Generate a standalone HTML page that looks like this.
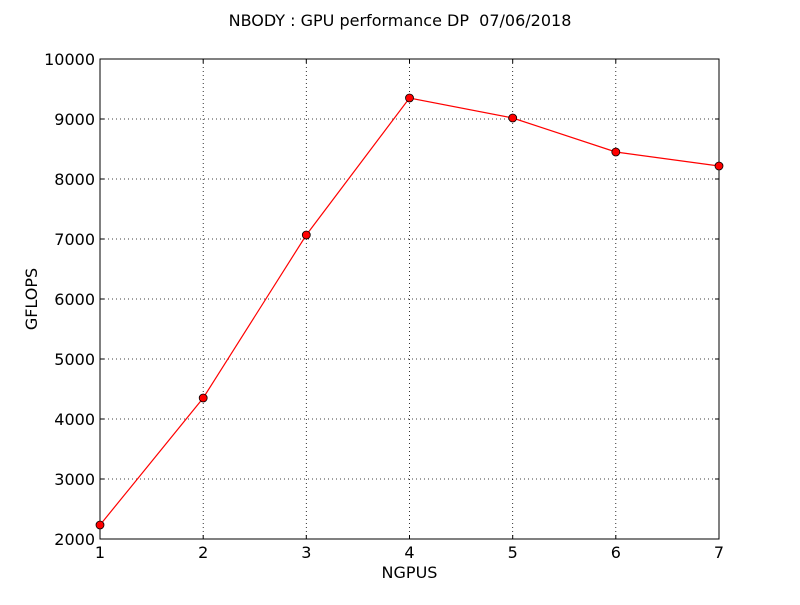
<!DOCTYPE html>
<html><head><meta charset="utf-8"><style>body{margin:0;background:#fff}</style></head>
<body>
<svg width="800" height="600" xmlns="http://www.w3.org/2000/svg" font-family="DejaVu Sans, Liberation Sans, sans-serif">
<rect width="800" height="600" fill="#fff"/>
<text x="400" y="26" font-size="16" text-anchor="middle">NBODY : GPU performance DP&#160; 07/06/2018</text>
<g stroke="#000" stroke-width="0.8" stroke-dasharray="1,3">
<line x1="203.2" y1="59" x2="203.2" y2="539"/><line x1="306.3" y1="59" x2="306.3" y2="539"/><line x1="409.5" y1="59" x2="409.5" y2="539"/><line x1="512.7" y1="59" x2="512.7" y2="539"/><line x1="615.8" y1="59" x2="615.8" y2="539"/>
<line x1="100" y1="119" x2="719" y2="119"/><line x1="100" y1="179" x2="719" y2="179"/><line x1="100" y1="239" x2="719" y2="239"/><line x1="100" y1="299" x2="719" y2="299"/><line x1="100" y1="359" x2="719" y2="359"/><line x1="100" y1="419" x2="719" y2="419"/><line x1="100" y1="479" x2="719" y2="479"/>
</g>
<rect x="100" y="59" width="619" height="480" fill="none" stroke="#000" stroke-width="1"/>
<g stroke="#000" stroke-width="1">
<line x1="203.2" y1="539" x2="203.2" y2="535"/><line x1="306.3" y1="539" x2="306.3" y2="535"/><line x1="409.5" y1="539" x2="409.5" y2="535"/><line x1="512.7" y1="539" x2="512.7" y2="535"/><line x1="615.8" y1="539" x2="615.8" y2="535"/>
<line x1="203.2" y1="59" x2="203.2" y2="63"/><line x1="306.3" y1="59" x2="306.3" y2="63"/><line x1="409.5" y1="59" x2="409.5" y2="63"/><line x1="512.7" y1="59" x2="512.7" y2="63"/><line x1="615.8" y1="59" x2="615.8" y2="63"/>
<line x1="100" y1="119" x2="104" y2="119"/><line x1="100" y1="179" x2="104" y2="179"/><line x1="100" y1="239" x2="104" y2="239"/><line x1="100" y1="299" x2="104" y2="299"/><line x1="100" y1="359" x2="104" y2="359"/><line x1="100" y1="419" x2="104" y2="419"/><line x1="100" y1="479" x2="104" y2="479"/>
<line x1="719" y1="119" x2="715" y2="119"/><line x1="719" y1="179" x2="715" y2="179"/><line x1="719" y1="239" x2="715" y2="239"/><line x1="719" y1="299" x2="715" y2="299"/><line x1="719" y1="359" x2="715" y2="359"/><line x1="719" y1="419" x2="715" y2="419"/><line x1="719" y1="479" x2="715" y2="479"/>
</g>
<g font-size="16" text-anchor="middle">
<text x="100" y="558">1</text><text x="203.2" y="558">2</text><text x="306.3" y="558">3</text><text x="409.5" y="558">4</text><text x="512.7" y="558">5</text><text x="615.8" y="558">6</text><text x="719" y="558">7</text>
</g>
<g font-size="16" text-anchor="end">
<text x="95" y="65">10000</text><text x="95" y="125">9000</text><text x="95" y="185">8000</text><text x="95" y="245">7000</text><text x="95" y="305">6000</text><text x="95" y="365">5000</text><text x="95" y="425">4000</text><text x="95" y="485">3000</text><text x="95" y="545">2000</text>
</g>
<text x="409.5" y="578" font-size="16" text-anchor="middle">NGPUS</text>
<text transform="translate(37,299) rotate(-90)" font-size="16" text-anchor="middle">GFLOPS</text>
<polyline fill="none" stroke="#f00" stroke-width="1.2" points="100,525 203.2,398 306.3,235 409.5,98 512.7,118 615.8,152 719,166"/>
<g fill="#f00" stroke="#000" stroke-width="0.8">
<circle cx="100" cy="525" r="4"/><circle cx="203.2" cy="398" r="4"/><circle cx="306.3" cy="235" r="4"/><circle cx="409.5" cy="98" r="4"/><circle cx="512.7" cy="118" r="4"/><circle cx="615.8" cy="152" r="4"/><circle cx="719" cy="166" r="4"/>
</g>
</svg>
</body></html>
